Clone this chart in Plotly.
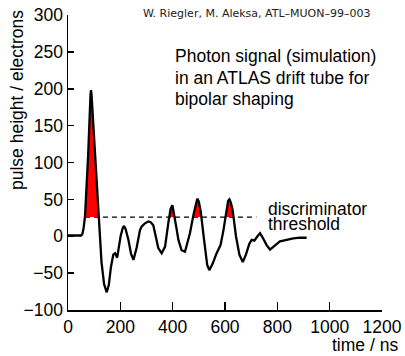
import plotly.graph_objects as go

# ---- data ----
time_ns = [0, 50, 55, 60, 65, 77, 86, 88, 90, 103, 117, 128, 138, 148, 156, 164, 173, 180, 188,
           201, 209, 214, 220, 231, 241, 250, 262, 275, 281, 294, 307, 316, 326, 335, 345, 358,
           371, 383, 392, 399, 406, 414, 422, 434, 447, 466, 480, 488, 494, 500, 507, 520, 532,
           540, 553, 568, 583, 594, 606, 612, 617, 622, 629, 642, 655, 668, 680, 693, 702, 712,
           724, 734, 746, 759, 772, 791, 810, 823, 842, 861, 887, 912]
pulse = [1, 1, 3, 12, 27, 110, 192, 198, 192, 112, 25, -35, -65, -76, -66, -42, -25, -23, -29,
         0, 11, 14, 10, -5, -24, -32, -16, 8, 13, 17.5, 20, 19, 15, 2, -16, -23,
         -14, 17, 37, 42, 30, 12, -5, -19, -21, 4, 30, 45, 51, 47, 34, -5, -39,
         -46, -37, -23, -12, 8, 38, 48, 50, 46, 36, 0, -25, -35, -25, -10, -5, -6,
         0, 4, -3, -12, -18, -13, -7, -6, -4, -3, -2, -2]
threshold = 26
threshold_span = [65, 720]
x_ticks = [0, 200, 400, 600, 800, 1000, 1200]
x_ticklabels = ["0", "200", "400", "600", "800", "1000", "1200"]
y_ticks = [-100, -50, 0, 50, 100, 150, 200, 250, 300]
y_ticklabels = ["\u2212100", "\u221250", "0", "50", "100", "150", "200", "250", "300"]

FONT = "Liberation Sans, Arial, Helvetica, sans-serif"
FS = 17.5


def above_segments(t, v, thr):
    segs, cur = [], None
    for i in range(len(t)):
        if v[i] > thr:
            if cur is None:
                f = (thr - v[i - 1]) / (v[i] - v[i - 1])
                cur = [(t[i - 1] + f * (t[i] - t[i - 1]), thr)]
            cur.append((t[i], v[i]))
        elif cur is not None:
            f = (thr - v[i - 1]) / (v[i] - v[i - 1])
            cur.append((t[i - 1] + f * (t[i] - t[i - 1]), thr))
            segs.append(cur)
            cur = None
    return segs


fig = go.Figure()

# dashed discriminator threshold
fig.add_trace(go.Scatter(x=threshold_span, y=[threshold, threshold], mode="lines",
                         line=dict(color="black", width=1.3, dash="5px,4px"),
                         hoverinfo="skip", showlegend=False))

# red areas above threshold
for seg in above_segments(time_ns, pulse, threshold):
    fig.add_trace(go.Scatter(x=[p[0] for p in seg], y=[p[1] for p in seg], mode="lines",
                             fill="toself", fillcolor="#ff0000", line=dict(width=0),
                             hoverinfo="skip", showlegend=False))

# signal
fig.add_trace(go.Scatter(x=time_ns, y=pulse, mode="lines",
                         line=dict(color="black", width=2.3), showlegend=False))

L, T, W, H = 68, 15, 314, 295


def px(x):
    return (x - L) / W


def py(y):
    return (T + H - y) / H


ann = []
ann.append(dict(text="W. Riegler, M. Aleksa, ATL\u2013MUON\u201399\u2013003", x=px(141), y=py(13.3),
                xanchor="left", yanchor="middle",
                font=dict(family="DejaVu Sans", size=11, color="#222222")))
for txt, yy in [("Photon signal (simulation)", 55.6), ("in an ATLAS drift tube for", 77.9),
                ("bipolar shaping", 98.9)]:
    ann.append(dict(text=txt, x=px(173), y=py(yy), xanchor="left", yanchor="middle",
                    font=dict(family=FONT, size=FS, color="black")))
for txt, yy in [("discriminator", 208.9), ("threshold", 223.9)]:
    ann.append(dict(text=txt, x=px(266), y=py(yy), xanchor="left", yanchor="middle",
                    font=dict(family=FONT, size=FS, color="black")))
ann.append(dict(text="time / ns", x=px(400), y=py(345), xanchor="right", yanchor="middle",
                font=dict(family=FONT, size=FS, color="black")))
ann.append(dict(text="pulse height / electrons", x=px(16.5), y=py(100.5), textangle=-90,
                xanchor="center", yanchor="middle",
                font=dict(family=FONT, size=FS, color="black")))
for a in ann:
    a.update(xref="paper", yref="paper", showarrow=False)

fig.update_layout(
    width=405, height=356,
    margin=dict(l=L, r=405 - L - W, t=T, b=356 - T - H, autoexpand=False),
    paper_bgcolor="white", plot_bgcolor="white",
    annotations=ann,
    hovermode=False,
    font=dict(family=FONT, size=FS, color="black"),
    xaxis=dict(range=[0, 1200], tickvals=x_ticks, ticktext=x_ticklabels, automargin=False,
               showgrid=False, zeroline=False, showline=True, linecolor="black", linewidth=1.5,
               ticks="inside", ticklen=8, tickwidth=1.5, tickcolor="black",
               tickfont=dict(family=FONT, size=FS, color="black")),
    yaxis=dict(range=[-100, 300], tickvals=y_ticks, ticktext=y_ticklabels, automargin=False,
               showgrid=False, zeroline=False, showline=True, linecolor="black", linewidth=1.5,
               ticks="inside", ticklen=6, tickwidth=1.5, tickcolor="black",
               tickfont=dict(family=FONT, size=FS, color="black")),
)

fig.write_html("out.html", config={"displayModeBar": False, "staticPlot": True},
               post_script="document.body.style.margin='0';document.body.style.overflow='hidden';")
